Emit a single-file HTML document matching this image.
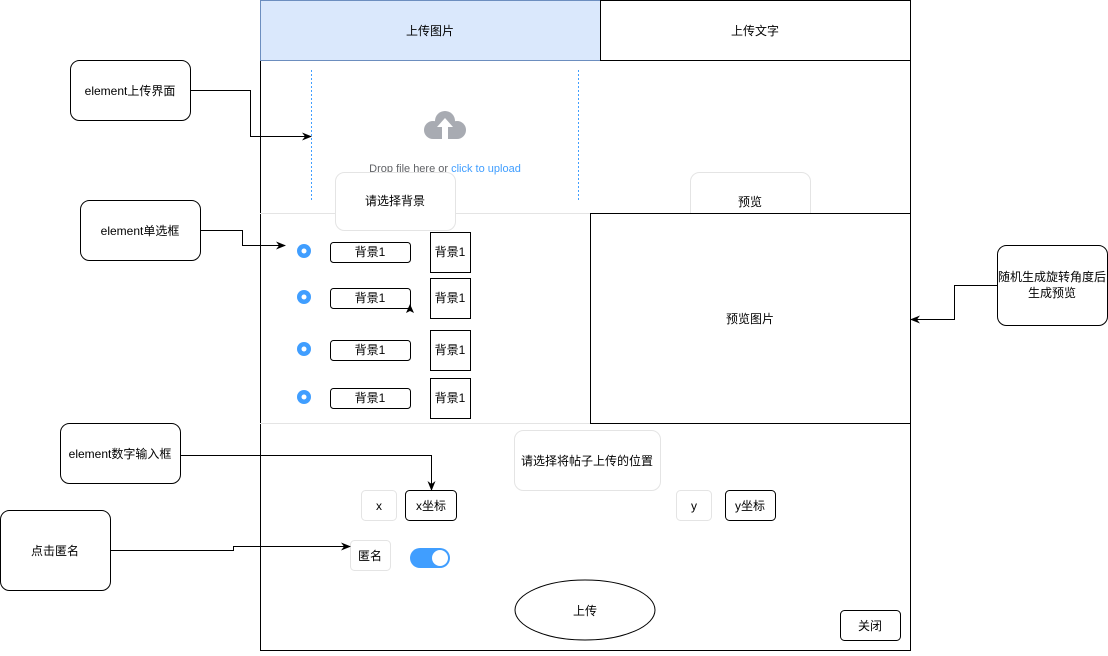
<!DOCTYPE html>
<html><head><meta charset="utf-8"><style>
html,body{margin:0;padding:0;background:#fff;}
svg text{font-family:"Liberation Sans","Noto Sans CJK SC",sans-serif;font-size:12px;fill:#000;text-anchor:middle;dominant-baseline:central;}
</style></head><body>
<svg width="1108" height="651" viewBox="0 0 1108 651" xmlns="http://www.w3.org/2000/svg">
<defs><marker id="a" markerWidth="10" markerHeight="10" refX="9" refY="5" orient="auto" markerUnits="userSpaceOnUse"><path d="M0,1 L10,5 L0,9 L3,5z" fill="#000"/></marker></defs>
<rect x="260.5" y="0.5" width="650" height="650" fill="#fff" stroke="#000"/>
<rect x="260.5" y="0.5" width="340" height="60" fill="#dae8fc" stroke="#6c8ebf"/>
<rect x="600.5" y="0.5" width="310" height="60" fill="#fff" stroke="#000"/>
<text x="430" y="31">上传图片</text>
<text x="755" y="31">上传文字</text>
<line x1="311.5" y1="70" x2="311.5" y2="200" stroke="#409eff" stroke-dasharray="2,2"/>
<line x1="578.5" y1="70" x2="578.5" y2="200" stroke="#409eff" stroke-dasharray="2,2"/>
<g fill="#a8abb2"><circle cx="445" cy="121" r="10"/><circle cx="433" cy="130" r="9"/><circle cx="457" cy="130" r="9"/><rect x="433" y="124" width="24" height="15"/></g>
<path d="M445,118 L453,127 L448,127 L448,139 L442,139 L442,127 L437,127z" fill="#fff"/>
<text x="445" y="169" style="font-size:11px"><tspan fill="#606266">Drop file here or </tspan><tspan fill="#409eff">click to upload</tspan></text>
<line x1="260" y1="213.5" x2="590" y2="213.5" stroke="#e4e4e4"/>
<line x1="260" y1="423.5" x2="590" y2="423.5" stroke="#e4e4e4"/>
<rect x="335.5" y="172.5" width="120" height="58" rx="9" fill="#fff" stroke="#e4e4e4"/>
<text x="395" y="201">请选择背景</text>
<rect x="690.5" y="172.5" width="120" height="58" rx="9" fill="#fff" stroke="#e4e4e4"/>
<text x="750" y="202">预览</text>
<rect x="590.5" y="213.5" width="320" height="210" fill="#fff" stroke="#000"/>
<text x="750" y="319">预览图片</text>
<g>
<circle cx="304" cy="251" r="7" fill="#409eff"/><circle cx="304" cy="251" r="2.5" fill="#fff"/>
<circle cx="304" cy="297" r="7" fill="#409eff"/><circle cx="304" cy="297" r="2.5" fill="#fff"/>
<circle cx="304" cy="349" r="7" fill="#409eff"/><circle cx="304" cy="349" r="2.5" fill="#fff"/>
<circle cx="304" cy="397" r="7" fill="#409eff"/><circle cx="304" cy="397" r="2.5" fill="#fff"/>
</g>
<g fill="#fff" stroke="#000">
<rect x="330.5" y="242.5" width="80" height="20" rx="3"/>
<rect x="330.5" y="288.5" width="80" height="20" rx="3"/>
<rect x="330.5" y="340.5" width="80" height="20" rx="3"/>
<rect x="330.5" y="388.5" width="80" height="20" rx="3"/>
<rect x="430.5" y="232.5" width="40" height="40"/>
<rect x="430.5" y="278.5" width="40" height="40"/>
<rect x="430.5" y="330.5" width="40" height="40"/>
<rect x="430.5" y="378.5" width="40" height="40"/>
</g>
<text x="370" y="252">背景1</text><text x="370" y="298">背景1</text><text x="370" y="350">背景1</text><text x="370" y="398">背景1</text>
<text x="450" y="252">背景1</text><text x="450" y="298">背景1</text><text x="450" y="350">背景1</text><text x="450" y="398">背景1</text>
<path d="M410,304 L414,313 L410,311 L406,313z" fill="#000"/>
<rect x="514.5" y="430.5" width="146" height="60" rx="9" fill="#fff" stroke="#e4e4e4"/>
<text x="587" y="461">请选择将帖子上传的位置</text>
<rect x="361.5" y="490.5" width="35" height="30" rx="4" fill="#fff" stroke="#e4e4e4"/><text x="379" y="506">x</text>
<rect x="405.5" y="490.5" width="51" height="30" rx="4" fill="#fff" stroke="#000"/><text x="431" y="506">x坐标</text>
<rect x="676.5" y="490.5" width="35" height="30" rx="4" fill="#fff" stroke="#e4e4e4"/><text x="694" y="506">y</text>
<rect x="725.5" y="490.5" width="50" height="30" rx="4" fill="#fff" stroke="#000"/><text x="750" y="506">y坐标</text>
<rect x="350.5" y="540.5" width="40" height="30" rx="4" fill="#fff" stroke="#e4e4e4"/><text x="370" y="556">匿名</text>
<rect x="410" y="548" width="40" height="20" rx="10" fill="#409eff"/><circle cx="440" cy="558" r="8" fill="#fff"/>
<ellipse cx="585" cy="610" rx="70" ry="30" fill="#fff" stroke="#000"/><text x="585" y="611">上传</text>
<rect x="840.5" y="610.5" width="60" height="30" rx="4" fill="#fff" stroke="#000"/><text x="870" y="626">关闭</text>
<rect x="70.5" y="60.5" width="120" height="60" rx="9" fill="#fff" stroke="#000"/><text x="130" y="91">element上传界面</text>
<rect x="80.5" y="200.5" width="120" height="60" rx="9" fill="#fff" stroke="#000"/><text x="140" y="231">element单选框</text>
<rect x="997.5" y="245.5" width="110" height="80" rx="9" fill="#fff" stroke="#000"/><text x="1052" y="277">随机生成旋转角度后</text><text x="1052" y="293">生成预览</text>
<rect x="60.5" y="423.5" width="120" height="60" rx="9" fill="#fff" stroke="#000"/><text x="120" y="454">element数字输入框</text>
<rect x="0.5" y="510.5" width="110" height="80" rx="9" fill="#fff" stroke="#000"/><text x="55" y="551">点击匿名</text>
<g fill="none" stroke="#000" marker-end="url(#a)">
<path d="M190,90.5 H250.5 V136.5 H311"/>
<path d="M200,230.5 H242.5 V245.5 H285"/>
<path d="M997,285.5 H954.5 V319.5 H911"/>
<path d="M180,455.5 H431.5 V490"/>
<path d="M110,550.5 H233.5 V546.5 H350"/>
</g>
</svg>
</body></html>
